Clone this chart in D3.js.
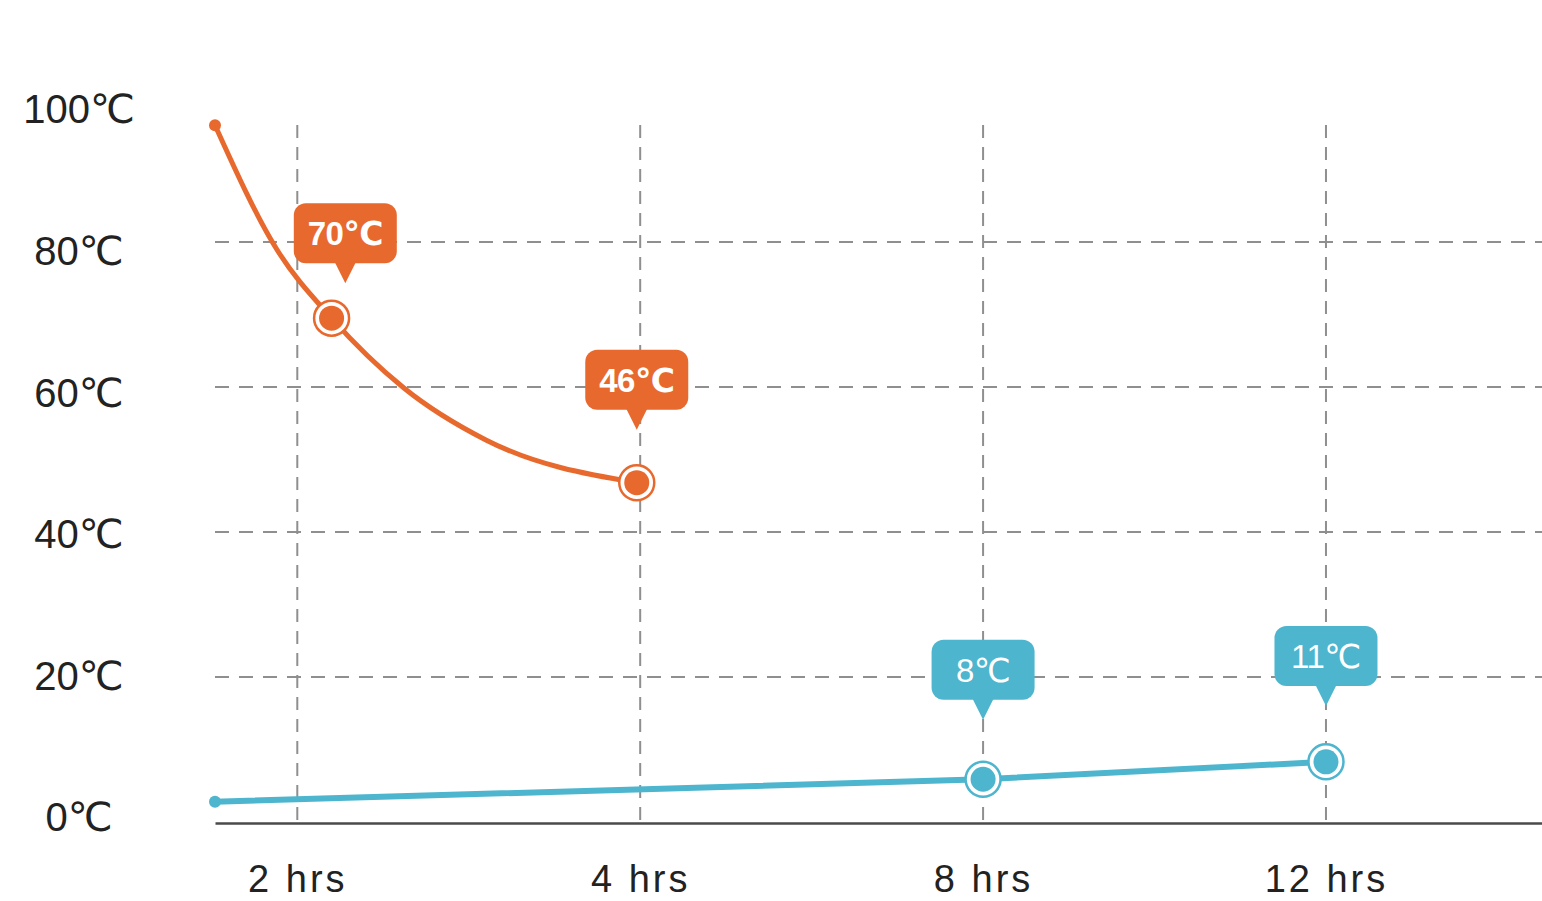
<!DOCTYPE html>
<html>
<head>
<meta charset="utf-8">
<script src="https://cdn.jsdelivr.net/npm/d3@7"></script>
<style>
	body { margin: 0; background: #fff; }
	svg { display: block; }
	text { font-family: "Liberation Sans", "DejaVu Sans", sans-serif; }
</style>
</head>
<body>
<svg width="1542" height="901"></svg>
<script>
// hours on the x axis sit on evenly spaced slots, not on a time scale
var hourLabels = ["2 hrs", "4 hrs", "8 hrs", "12 hrs"];
var hourSlots = [1, 2, 3, 4];
var tempTicks = [0, 20, 40, 60, 80, 100];
var gridTemps = [20, 40, 60, 80];

// hot drink (orange); only some points get a marker
var hotSlots = [0.76, 0.94, 1.10, 1.31, 1.55, 1.99];
var hotTemps = [96.1, 79.0, 69.5, 59.9, 52.7, 46.8];
var hotMarked = [2, 5];
var hotTags = ["70℃", "46℃"];
var hotTagSlots = [1.14, 1.99];
var hotTagTemps = [74.3, 54.1];

// cold drink (blue)
var coldSlots = [0.76, 3, 4];
var coldTemps = [2.8, 5.9, 8.3];
var coldMarked = [1, 2];
var coldTags = ["8℃", "11℃"];
var coldTagSlots = [3, 4];
var coldTagTemps = [14.1, 16.0];

var orange = "#e8692d",
    blue = "#4db5cd";

var svg = d3.select("svg"),
    left = 215,
    right = +svg.attr("width"),
    gridTop = 125,
    baseY = 823;

var x = d3.scaleLinear().domain([0.76, 4.63]).range([left, right]),
    y = d3.scaleLinear().domain([0, 100]).range([822, 97]),
    // the labels in the picture sit on a slightly tighter spacing than the grid
    yLabel = d3.scaleLinear().domain([0, 100]).range([818, 110]);

function zip(slots, temps) {
	return slots.map(function(s, i) { return {s: s, t: temps[i]}; });
}

var grid = svg.append("g").attr("class", "grid")
	.attr("stroke", "#8f8f8f")
	.attr("stroke-width", 2)
	.attr("stroke-dasharray", "14,10");

grid.selectAll(".h").data(gridTemps)
	.enter().append("line")
	.attr("class", "h")
	.attr("x1", left).attr("x2", right)
	.attr("y1", function(d) { return y(d); })
	.attr("y2", function(d) { return y(d); });

grid.selectAll(".v").data(hourSlots)
	.enter().append("line")
	.attr("class", "v")
	.attr("stroke-dasharray", "13,9")
	.attr("x1", function(d) { return x(d); })
	.attr("x2", function(d) { return x(d); })
	.attr("y1", gridTop).attr("y2", baseY);

// x axis
var xAxis = svg.append("g")
	.attr("transform", "translate(0," + baseY + ")")
	.call(d3.axisBottom(x)
		.tickValues(hourSlots)
		.tickFormat(function(d, i) { return hourLabels[i]; })
		.tickSize(0).tickSizeOuter(0).tickPadding(42));
xAxis.select(".domain").attr("stroke", "#4a4a4a").attr("stroke-width", 2.5);
xAxis.selectAll("text")
	.attr("fill", "#222")
	.style("font-size", "38px")
	.style("letter-spacing", "3px");

// y axis labels only
var yAxis = svg.append("g")
	.attr("transform", "translate(79,0)")
	.call(d3.axisLeft(yLabel)
		.tickValues(tempTicks)
		.tickFormat(function(d) { return d + "℃"; })
		.tickSize(0));
yAxis.select(".domain").remove();
yAxis.selectAll("text")
	.attr("x", 0)
	.attr("text-anchor", "middle")
	.attr("fill", "#222")
	.style("font-size", "40px");

function drawSeries(slots, temps, marked, color, curve, width) {
	var pts = zip(slots, temps);
	var line = d3.line()
		.x(function(d) { return x(d.s); })
		.y(function(d) { return y(d.t); })
		.curve(curve);

	var g = svg.append("g");
	g.append("path")
		.datum(pts)
		.attr("fill", "none")
		.attr("stroke", color)
		.attr("stroke-width", width)
		.attr("stroke-linecap", "round")
		.attr("d", line);

	// start dot
	g.append("circle")
		.attr("cx", x(pts[0].s)).attr("cy", y(pts[0].t))
		.attr("r", 6).attr("fill", color);

	var marks = g.selectAll(".mark").data(marked.map(function(i) { return pts[i]; }))
		.enter().append("g")
		.attr("class", "mark")
		.attr("transform", function(d) { return "translate(" + x(d.s) + "," + y(d.t) + ")"; });
	marks.append("circle").attr("r", 17.5).attr("fill", "#fff").attr("stroke", color).attr("stroke-width", 2.5);
	marks.append("circle").attr("r", 12.5).attr("fill", color);
}

function drawTags(slots, temps, tags, color, weight) {
	var tag = svg.append("g").selectAll(".tag").data(tags)
		.enter().append("g")
		.attr("class", "tag")
		.attr("transform", function(d, i) { return "translate(" + x(slots[i]) + "," + y(temps[i]) + ")"; });

	tag.append("path")
		.attr("d", "M0,0L-11,-22L11,-22Z")
		.attr("fill", color);
	tag.append("rect")
		.attr("x", -51.5).attr("y", -80)
		.attr("width", 103).attr("height", 60)
		.attr("rx", 12)
		.attr("fill", color);
	tag.append("text")
		.attr("y", -50).attr("dy", "0.36em")
		.attr("text-anchor", "middle")
		.attr("fill", "#fff")
		.style("font-size", "33px")
		.style("font-weight", weight)
		.style("letter-spacing", "-0.5px")
		.text(function(d) { return d; });
}

drawSeries(coldSlots, coldTemps, coldMarked, blue, d3.curveLinear, 6);
drawSeries(hotSlots, hotTemps, hotMarked, orange, d3.curveMonotoneX, 5);
drawTags(hotTagSlots, hotTagTemps, hotTags, orange, "bold");
drawTags(coldTagSlots, coldTagTemps, coldTags, blue, "normal");
</script>
</body>
</html>
